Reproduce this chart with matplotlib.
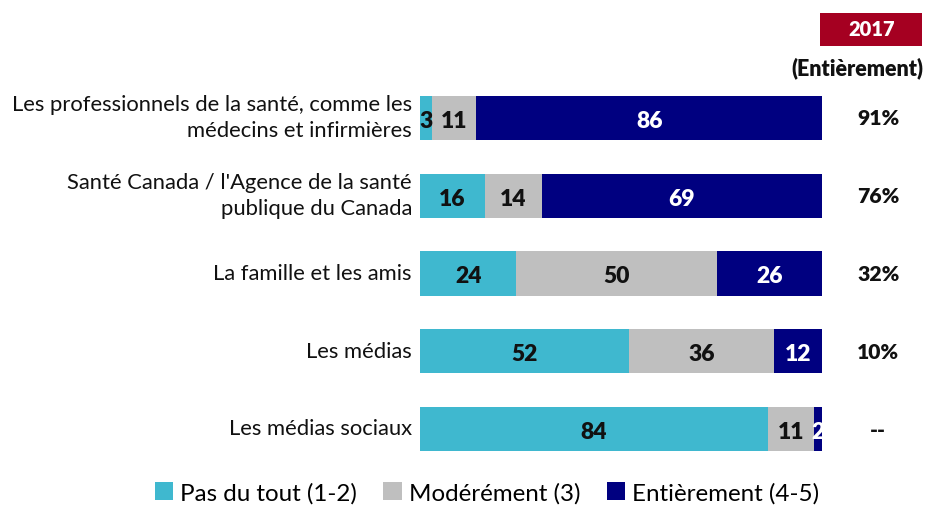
import matplotlib
matplotlib.use("Agg")
import matplotlib.pyplot as plt
from matplotlib.patches import Patch, Rectangle
import numpy as np

plt.rcParams['font.family'] = ['Lato', 'DejaVu Sans']

categories = [
    "Les professionnels de la santé, comme les\nmédecins et infirmières",
    "Santé Canada / l'Agence de la santé\npublique du Canada",
    "La famille et les amis",
    "Les médias",
    "Les médias sociaux",
]
pas_du_tout = [3, 16, 24, 52, 84]
modere = [11, 14, 50, 36, 11]
entierement = [86, 69, 26, 12, 2]
col_2017 = ["91%", "76%", "32%", "10%", "--"]
series_names = ["Pas du tout (1-2)", "Modérément (3)", "Entièrement (4-5)"]
colors = ["#3FB8CF", "#BFBFBF", "#000080"]
text_colors = ["#111111", "#111111", "white"]

W, H = 929, 506
fig = plt.figure(figsize=(W / 100, H / 100), dpi=100)
ax = fig.add_axes([420 / W, 1 - 469 / H, 402 / W, 389 / H])

data = np.array([pas_du_tout, modere, entierement], dtype=float)
totals = data.sum(axis=0)
shares = data / totals * 100
y = np.arange(len(categories))
left = np.zeros(len(categories))
for k in range(3):
    bars = ax.barh(y, shares[k], left=left, height=0.57, color=colors[k],
                   edgecolor='none')
    for i, b in enumerate(bars):
        cx = left[i] + shares[k][i] / 2
        ax.text(cx, y[i] + 0.03, f"{int(data[k][i])}", ha='center', va='center',
                fontsize=16.5, fontweight='heavy', color=text_colors[k])
    left += shares[k]

ax.set_xlim(0, 100)
ax.set_ylim(len(categories) - 0.5, -0.5)
ax.axis('off')

for i, c in enumerate(categories):
    ax.text(-2, y[i] - 0.01, c, ha='right', va='center', fontsize=15.8,
            color='#111111', linespacing=1.35, transform=ax.transData)
    ax.text(114, y[i], col_2017[i], ha='center', va='center', fontsize=15.2,
            fontweight='heavy', color='#111111')

# 2017 header
fig.patches.append(Rectangle((820 / W, 1 - 47 / H), 102 / W, 33 / H,
                             transform=fig.transFigure, facecolor='#A50021',
                             edgecolor='none'))
fig.text(872 / W, 1 - 30 / H, "2017", ha='center', va='center', fontsize=14.5,
         fontweight='heavy', color='white')
fig.text(857 / W, 1 - 68 / H, "(Entièrement)", ha='center', va='center',
         fontsize=15.5, fontweight='heavy', color='#111111')

handles = [Patch(facecolor=colors[k], edgecolor='none', label=series_names[k])
           for k in range(3)]
fig.legend(handles=handles, loc='center', bbox_to_anchor=(487 / W, 1 - 494 / H),
           ncol=3, frameon=False, fontsize=17.4, handlelength=0.75, handleheight=0.75,
           handletextpad=0.3, columnspacing=1.1)

fig.savefig("out.png", dpi=100)
